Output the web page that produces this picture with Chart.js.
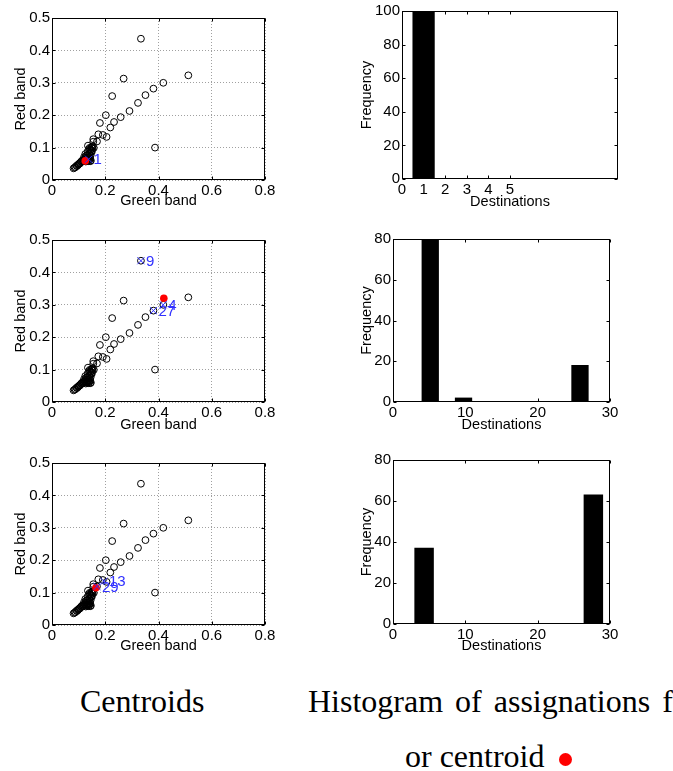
<!DOCTYPE html>
<html>
<head>
<meta charset="utf-8">
<script src="https://cdn.jsdelivr.net/npm/chart.js@4.4.1/dist/chart.umd.min.js"></script>
<style>
  body { margin: 0; background: #fff; width: 673px; height: 771px; position: relative; overflow: hidden; }
  canvas { position: absolute; }
  .cap { position: absolute; font-family: 'Liberation Serif', 'Times New Roman', serif; font-size: 32px; line-height: 1; white-space: nowrap; color: #000; }
  .dot { position: absolute; width: 13px; height: 13px; border-radius: 50%; background: #ff0000; }
</style>
</head>
<body>
<canvas id="sc1" width="280" height="215" style="left:0;top:0"></canvas>
<canvas id="sc2" width="280" height="215" style="left:0;top:225px"></canvas>
<canvas id="sc3" width="280" height="215" style="left:0;top:445px"></canvas>
<canvas id="hi1" width="290" height="215" style="left:340px;top:0"></canvas>
<canvas id="hi2" width="290" height="215" style="left:340px;top:225px"></canvas>
<canvas id="hi3" width="290" height="215" style="left:340px;top:445px"></canvas>

<div class="cap" style="left:80px;top:685px">Centroids</div>
<div class="cap" style="left:308px;top:685px;word-spacing:4px">Histogram of assignations f</div>
<div class="cap" style="left:405px;top:740px">or centroid</div>
<div class="dot" style="left:559px;top:753px"></div>

<script>
// pixel values: green band (x) / red band (y), same for all three panels
const greenBand = [
  0.334, 0.269, 0.512, 0.418, 0.381, 0.351, 0.323, 0.291, 0.226, 0.258, 0.233, 0.219, 0.202, 0.205, 0.191, 0.180, 0.174, 0.387, 0.169, 0.155, 0.135, 0.155,
  0.148, 0.152, 0.150, 0.145, 0.157, 0.153,
  0.134, 0.144, 0.147, 0.125, 0.137, 0.140, 0.121, 0.131, 0.127, 0.135, 0.140, 0.143, 0.146, 0.138, 0.130, 0.128, 0.113, 0.117, 0.104, 0.108,
  0.100, 0.094, 0.097, 0.088, 0.081, 0.085, 0.120, 0.133, 0.142, 0.145, 0.150, 0.139, 0.141, 0.148, 0.123, 0.132, 0.136, 0.144, 0.126, 0.129,
  0.118, 0.110, 0.105, 0.092, 0.099
];
const redBand = [
  0.436, 0.313, 0.323, 0.300, 0.282, 0.262, 0.238, 0.213, 0.259, 0.194, 0.179, 0.162, 0.200, 0.133, 0.139, 0.176, 0.141, 0.100, 0.119, 0.126, 0.106, 0.118,
  0.100, 0.097, 0.103, 0.094, 0.099, 0.104,
  0.088, 0.093, 0.085, 0.080, 0.074, 0.080, 0.064, 0.062, 0.057, 0.068, 0.062, 0.066, 0.060, 0.058, 0.070, 0.075, 0.060, 0.058, 0.052, 0.055,
  0.049, 0.043, 0.046, 0.040, 0.036, 0.038, 0.070, 0.078, 0.071, 0.076, 0.088, 0.095, 0.099, 0.091, 0.064, 0.059, 0.063, 0.058, 0.068, 0.061,
  0.062, 0.057, 0.051, 0.044, 0.048
];

// red centroid of each row
const centroidX = [0.125, 0.420, 0.165];
const centroidY = [0.059, 0.320, 0.115];

// destinations marked in blue
const dest1Names = ['1'];
const dest1X = [0.1375];
const dest1Y = [0.064];
const dest2Names = ['9', '4', '27'];
const dest2X = [0.334, 0.4175, 0.381];
const dest2Y = [0.436, 0.300, 0.282];
const dest3Names = ['13', '29'];
const dest3X = [0.195, 0.169];
const dest3Y = [0.135, 0.119];

// histograms (bin centres + counts)
const hist1Centers = [1, 2, 3, 4, 5];
const hist1Counts = [100, 0, 0, 0, 0];
const hist1Ticks = [0, 1, 2, 3, 4, 5];
const hist2Centers = [5.15, 7.45, 9.75, 12.05, 14.35, 16.65, 18.95, 21.25, 23.55, 25.85];
const hist2Counts = [80, 0, 2, 0, 0, 0, 0, 0, 0, 18];
const hist3Centers = [4.3, 6.9, 9.5, 12.1, 14.7, 17.3, 19.9, 22.5, 25.1, 27.7];
const hist3Counts = [37, 0, 0, 0, 0, 0, 0, 0, 0, 63];

Chart.defaults.font.family = "'Liberation Sans', Arial, sans-serif";
Chart.defaults.color = '#000';
Chart.defaults.animation = false;

const zip = (xs, ys) => xs.map((x, i) => ({ x: x, y: ys[i] }));

// box round the axes with inward ticks, matlab style
const matlabFrame = {
  id: 'matlabFrame',
  afterDraw(chart) {
    const { ctx, chartArea: a, scales: { x, y } } = chart;
    const l = Math.round(a.left) + 0.5, r = Math.round(a.right) - 0.5;
    const t = Math.round(a.top) + 0.5, b = Math.round(a.bottom) - 0.5;
    ctx.save();
    ctx.strokeStyle = '#000';
    ctx.lineWidth = 1;
    ctx.beginPath();
    x.ticks.forEach((tk) => {
      const px = Math.round(x.getPixelForValue(tk.value)) + 0.5;
      ctx.moveTo(px, b); ctx.lineTo(px, b - 3);
      ctx.moveTo(px, t); ctx.lineTo(px, t + 3);
    });
    y.ticks.forEach((tk) => {
      const py = Math.round(y.getPixelForValue(tk.value)) + 0.5;
      ctx.moveTo(l, py); ctx.lineTo(l + 3, py);
      ctx.moveTo(r, py); ctx.lineTo(r - 3, py);
    });
    ctx.stroke();
    ctx.strokeRect(l, t, r - l, b - t);
    ctx.restore();
  }
};

// blue names next to the marked destinations
const markerLabels = {
  id: 'markerLabels',
  afterDatasetsDraw(chart) {
    const ctx = chart.ctx;
    chart.data.datasets.forEach((ds, i) => {
      if (!ds.names) return;
      const meta = chart.getDatasetMeta(i);
      ctx.save();
      ctx.font = "15px 'Liberation Sans', Arial, sans-serif";
      ctx.fillStyle = '#3030ff';
      ctx.textBaseline = 'middle';
      meta.data.forEach((pt, j) => ctx.fillText(ds.names[j], pt.x + 5, pt.y + 1));
      ctx.restore();
    });
  }
};

const tickFont = { size: 15 };
const titleFont = { size: 14.5 };

const fixWidth = (w) => (scale) => { scale.width = w; };
const fixHeight = (h) => (scale) => { scale.height = h; };

function scatterChart(id, row, names, dx, dy, lay) {
  return new Chart(document.getElementById(id), {
    type: 'scatter',
    data: {
      datasets: [
        {
          data: zip(dx, dy),
          names: names,
          pointStyle: 'crossRot',
          pointRadius: 5,
          borderColor: '#3030ff',
          borderWidth: 1,
          order: 0
        },
        {
          data: [{ x: centroidX[row], y: centroidY[row] }],
          pointStyle: 'circle',
          pointRadius: 3.8,
          backgroundColor: '#ff0000',
          borderColor: '#ff0000',
          borderWidth: 0,
          order: 1
        },
        {
          data: zip(greenBand, redBand),
          pointStyle: 'circle',
          pointRadius: 3.4,
          backgroundColor: 'rgba(0,0,0,0)',
          borderColor: '#000',
          borderWidth: 1,
          order: 2
        }
      ]
    },
    options: {
      responsive: false,
      events: [],
      layout: { padding: lay.pad },
      plugins: { legend: { display: false }, tooltip: { enabled: false } },
      scales: {
        x: {
          type: 'linear', min: 0, max: 0.8,
          ticks: { stepSize: 0.2, font: tickFont, padding: 2, maxRotation: 0 },
          grid: { color: '#a0a0a0', drawTicks: false },
          border: { display: false, dash: [1, 2] },
          title: { display: true, text: 'Green band', font: titleFont, padding: { top: 4, bottom: 4 } },
          afterFit: fixHeight(lay.xH)
        },
        y: {
          type: 'linear', min: 0, max: 0.5,
          ticks: { stepSize: 0.1, font: tickFont, padding: 2 },
          grid: { color: '#a0a0a0', drawTicks: false },
          border: { display: false, dash: [1, 2] },
          title: { display: true, text: 'Red band', font: titleFont, padding: { top: 4, bottom: 4 } },
          afterFit: fixWidth(lay.yW)
        }
      }
    },
    plugins: [matlabFrame, markerLabels]
  });
}

function histChart(id, centers, counts, xMax, yMax, xTicks, lay) {
  const xScale = {
    type: 'linear', min: 0, max: xMax, offset: false,
    ticks: { stepSize: 10, font: tickFont, padding: 2, maxRotation: 0 },
    grid: { display: false, drawTicks: false, offset: false },
    border: { display: false },
    title: { display: true, text: 'Destinations', font: titleFont, padding: { top: 4, bottom: 4 } },
    afterFit: fixHeight(lay.xH)
  };
  if (xTicks) {
    xScale.afterBuildTicks = (scale) => { scale.ticks = xTicks.map((v) => ({ value: v })); };
  }
  return new Chart(document.getElementById(id), {
    type: 'bar',
    data: {
      datasets: [{
        data: zip(centers, counts),
        backgroundColor: '#000',
        borderWidth: 0,
        categoryPercentage: 1,
        barPercentage: 1
      }]
    },
    options: {
      responsive: false,
      events: [],
      layout: { padding: lay.pad },
      plugins: { legend: { display: false }, tooltip: { enabled: false } },
      scales: {
        x: xScale,
        y: {
          type: 'linear', min: 0, max: yMax,
          ticks: { stepSize: 20, font: tickFont, padding: 2 },
          grid: { display: false, drawTicks: false },
          border: { display: false },
          title: { display: true, text: 'Frequency', font: titleFont, padding: { top: 4, bottom: 4 } },
          afterFit: fixWidth(lay.yW)
        }
      }
    },
    plugins: [matlabFrame]
  });
}

scatterChart('sc1', 0, dest1Names, dest1X, dest1Y,
  { pad: { left: 8, top: 18, right: 15, bottom: 1 }, yW: 44, xH: 34 });
scatterChart('sc2', 1, dest2Names, dest2X, dest2Y,
  { pad: { left: 8, top: 15, right: 15, bottom: 2 }, yW: 44, xH: 36 });
scatterChart('sc3', 2, dest3Names, dest3X, dest3Y,
  { pad: { left: 8, top: 18, right: 15, bottom: 1 }, yW: 44, xH: 34 });

histChart('hi1', hist1Centers, hist1Counts, 10, 100, hist1Ticks,
  { pad: { left: 14, top: 11, right: 12, bottom: 0 }, yW: 48, xH: 36 });
histChart('hi2', hist2Centers, hist2Counts, 30, 80, null,
  { pad: { left: 14, top: 14, right: 20, bottom: 2 }, yW: 39, xH: 36 });
histChart('hi3', hist3Centers, hist3Counts, 30, 80, null,
  { pad: { left: 14, top: 15, right: 20, bottom: 1 }, yW: 39, xH: 35 });
</script>
</body>
</html>
